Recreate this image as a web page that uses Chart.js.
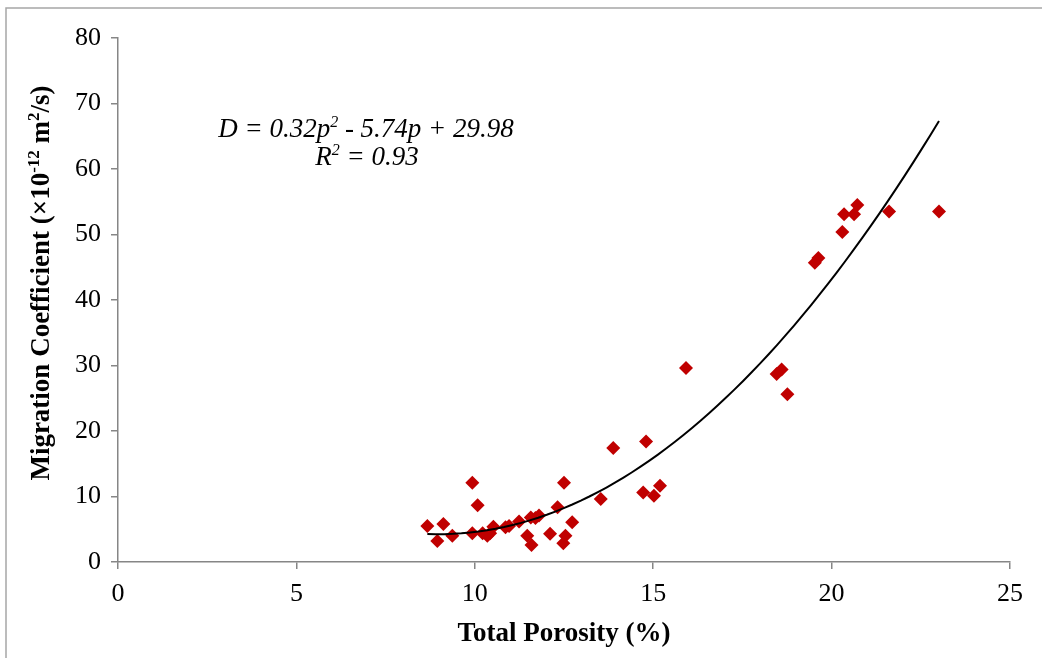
<!doctype html>
<html>
<head>
<meta charset="utf-8" />
<title>Migration coefficient vs total porosity</title>
<script src="https://cdn.jsdelivr.net/npm/chart.js@4.4.1/dist/chart.umd.min.js"></script>
<style>
	html, body { margin: 0; padding: 0; background: #fff; }
	#wrap { width: 1042px; height: 658px; position: relative; }
</style>
</head>
<body>
<div id="wrap"><canvas id="chart"></canvas></div>
<script>
// measured porosity (%) and migration coefficient (x1e-12 m2/s)
const porosity = [
	8.67, 8.95, 9.12, 9.37, 9.93, 9.93, 10.08, 10.22, 10.35, 10.43,
	10.52, 10.86, 10.96, 11.24, 11.47, 11.59, 11.57, 11.70, 11.80, 12.11,
	12.32, 12.50, 12.54, 12.48, 12.73, 13.53, 13.88, 14.80, 14.72, 15.02,
	15.19, 15.92, 18.46, 18.60, 18.76, 19.53, 19.63, 20.30, 20.35, 20.63,
	20.72, 21.61, 23.01
];
const migration = [
	5.5, 3.2, 5.8, 4.0, 12.1, 4.4, 8.65, 4.4, 4.0, 4.4,
	5.4, 5.3, 5.5, 6.2, 4.0, 2.6, 6.8, 6.7, 7.1, 4.3,
	8.35, 12.1, 4.0, 2.85, 6.05, 9.6, 17.4, 18.4, 10.6, 10.1,
	11.65, 29.6, 28.7, 29.4, 25.6, 45.7, 46.4, 50.4, 53.1, 53.1,
	54.5, 53.5, 53.5
];
// fitted trendline D = a p^2 + b p + c, drawn over the data range
const fitCoef = [0.32, -5.74, 29.98];
const fitRange = [8.67, 23.01];
const xTicks = [0, 5, 10, 15, 20, 25];
const yTicks = [0, 10, 20, 30, 40, 50, 60, 70, 80];

const points = porosity.map((p, i) => ({ x: p, y: migration[i] }));
const fitLine = [];
for (let k = 0; k <= 60; k++) {
	const p = fitRange[0] + (fitRange[1] - fitRange[0]) * k / 60;
	fitLine.push({ x: p, y: fitCoef[0] * p * p + fitCoef[1] * p + fitCoef[2] });
}

const serif = "'Liberation Serif', 'Times New Roman', serif";
const axisGray = "#868686";

// draws a run of [text, font, dy] pieces centred on x
function drawRuns(c, runs, cx, y) {
	let w = 0;
	runs.forEach(([t, f]) => { c.font = f; w += c.measureText(t).width; });
	let x = cx - w / 2;
	runs.forEach(([t, f, dy]) => {
		c.font = f;
		c.fillText(t, x, y + dy);
		x += c.measureText(t).width;
	});
}

// outer frame (top and left edges only are visible), equation, y title
const decorations = {
	id: "decorations",
	beforeDraw(chart) {
		const c = chart.ctx;
		c.save();
		c.strokeStyle = "#a6a6a6";
		c.lineWidth = 1.5;
		c.beginPath();
		c.moveTo(6, 658);
		c.lineTo(6, 8);
		c.lineTo(1042, 8);
		c.stroke();
		c.restore();
	},
	afterDraw(chart) {
		const c = chart.ctx;
		c.save();
		c.fillStyle = "#000";
		c.textAlign = "left";
		c.textBaseline = "alphabetic";
		const big = "italic 27px " + serif;
		const sup = "italic 16px " + serif;
		drawRuns(c, [["D = 0.32p", big, 0], ["2", sup, -10], [" - 5.74p + 29.98", big, 0]], 366, 137);
		drawRuns(c, [["R", big, 0], ["2", sup, -10], [" = 0.93", big, 0]], 367, 165);

		const tb = "bold 27px " + serif;
		const ts = "bold 17px " + serif;
		c.translate(49, 283);
		c.rotate(-Math.PI / 2);
		drawRuns(c, [
			["Migration Coefficient (\u00d710", tb, 0],
			["-12", ts, -10],
			[" m", tb, 0],
			["2", ts, -10],
			["/s)", tb, 0],
		], 0, 0);
		c.restore();
	},
};

new Chart(document.getElementById("chart"), {
	type: "scatter",
	data: {
		datasets: [
			{
				label: "Measured",
				data: points,
				pointStyle: "rectRot",
				pointRadius: 7,
				pointHoverRadius: 7,
				backgroundColor: "#c00000",
				borderColor: "#c00000",
				borderWidth: 0,
				order: 2,
			},
			{
				label: "Fit",
				type: "line",
				data: fitLine,
				borderColor: "#000",
				borderWidth: 2,
				pointRadius: 0,
				fill: false,
				tension: 0,
				order: 1,
			},
		],
	},
	options: {
		responsive: true,
		maintainAspectRatio: false,
		animation: false,
		layout: { padding: { left: 10, right: 32, top: 38, bottom: 6 } },
		plugins: { legend: { display: false }, tooltip: { enabled: false } },
		scales: {
			x: {
				type: "linear",
				min: 0,
				max: 25,
				afterBuildTicks: (s) => { s.ticks = xTicks.map((v) => ({ value: v })); },
				afterFit: (s) => { s.height = 90; },
				border: { color: axisGray, width: 1.5 },
				grid: { drawOnChartArea: false, tickLength: 7, color: axisGray, lineWidth: 1.5 },
				ticks: { color: "#000", font: { family: serif, size: 26 }, padding: 10, maxRotation: 0 },
				title: {
					display: true,
					text: "Total Porosity (%)",
					color: "#000",
					font: { family: serif, size: 27, weight: "bold" },
					padding: { top: 2, bottom: 2 },
				},
			},
			y: {
				type: "linear",
				min: 0,
				max: 80,
				afterBuildTicks: (s) => { s.ticks = yTicks.map((v) => ({ value: v })); },
				afterFit: (s) => { s.width = 108; },
				border: { color: axisGray, width: 1.5 },
				grid: { drawOnChartArea: false, tickLength: 7, color: axisGray, lineWidth: 1.5 },
				ticks: { color: "#000", font: { family: serif, size: 26 }, padding: 10 },
			},
		},
	},
	plugins: [decorations],
});
</script>
</body>
</html>
